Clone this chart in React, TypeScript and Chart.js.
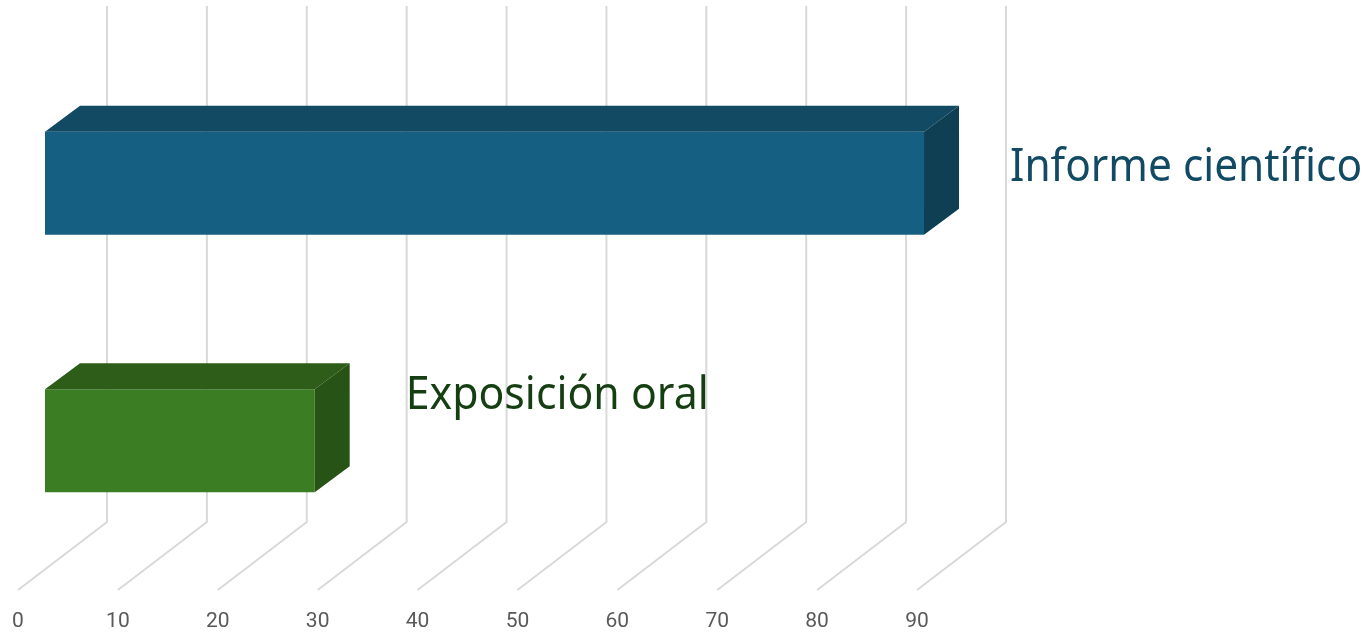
import React, { useEffect, useRef } from "react";
import { Chart, registerables } from "chart.js";

Chart.register(...registerables);

const categories = ["Informe científico", "Exposición oral"];
const values = [88, 27];
const frontColors = ["#156082", "#3B7D23"];
const topColors = ["#124A64", "#2E5D1A"];
const sideColors = ["#0E3F52", "#275317"];
const labelColors = ["#124A64", "#153F12"];

const WALL_DX = 89;
const WALL_DY = -68;
const BAR_DX = 27;
const BAR_DY = -20.6;
const DEPTH_DX = 35;
const DEPTH_DY = -26;
const WALL_TOP = 6;
const labelPlacement = [
  { dx: 51, baseline: 181, width: 352 },
  { dx: 56, baseline: 409, width: 303 },
];

const bar3d = {
  id: "bar3d",
  beforeDatasetsDraw(chart: any) {
    const { ctx, scales } = chart;
    const x = scales.x;
    const bottom = chart.chartArea.bottom;
    ctx.save();
    ctx.strokeStyle = "#D9D9D9";
    ctx.lineWidth = 2;
    ctx.lineJoin = "miter";
    x.ticks.forEach((t: any) => {
      const px = x.getPixelForValue(t.value);
      ctx.beginPath();
      ctx.moveTo(px, bottom);
      ctx.lineTo(px + WALL_DX, bottom + WALL_DY);
      ctx.lineTo(px + WALL_DX, WALL_TOP);
      ctx.stroke();
    });
    ctx.restore();
    ctx.save();
    ctx.translate(BAR_DX, BAR_DY);
  },
  afterDatasetsDraw(chart: any) {
    const { ctx } = chart;
    ctx.restore();
    const meta = chart.getDatasetMeta(0);
    meta.data.forEach((bar: any, i: number) => {
      const p = bar.getProps(["x", "y", "base", "height"], true);
      const left = p.base + BAR_DX;
      const right = p.x + BAR_DX;
      const top = p.y - p.height / 2 + BAR_DY;
      const bot = p.y + p.height / 2 + BAR_DY;
      ctx.fillStyle = topColors[i];
      ctx.beginPath();
      ctx.moveTo(left, top);
      ctx.lineTo(left + DEPTH_DX, top + DEPTH_DY);
      ctx.lineTo(right + DEPTH_DX, top + DEPTH_DY);
      ctx.lineTo(right, top);
      ctx.closePath();
      ctx.fill();
      ctx.fillStyle = sideColors[i];
      ctx.beginPath();
      ctx.moveTo(right, top);
      ctx.lineTo(right + DEPTH_DX, top + DEPTH_DY);
      ctx.lineTo(right + DEPTH_DX, bot + DEPTH_DY);
      ctx.lineTo(right, bot);
      ctx.closePath();
      ctx.fill();
      const place = labelPlacement[i];
      ctx.save();
      ctx.font = '46px "Noto Sans"';
      ctx.fillStyle = labelColors[i];
      ctx.textAlign = "left";
      ctx.textBaseline = "alphabetic";
      ctx.fillText(categories[i], right + DEPTH_DX + place.dx, place.baseline, place.width);
      ctx.restore();
    });
  },
};

export default function App() {
  const ref = useRef<HTMLCanvasElement>(null);
  useEffect(() => {
    const chart = new Chart(ref.current!, {
      type: "bar",
      data: {
        labels: categories,
        datasets: [
          {
            data: values,
            backgroundColor: frontColors,
            borderWidth: 0,
            categoryPercentage: 1,
            barPercentage: 0.4,
          },
        ],
      },
      options: {
        indexAxis: "y",
        animation: false,
        responsive: false,
        layout: { autoPadding: false, padding: { left: 18, right: 451, top: 75, bottom: 0 } },
        plugins: { legend: { display: false }, tooltip: { enabled: false } },
        scales: {
          x: {
            type: "linear",
            min: 0,
            max: 90,
            grid: { display: false, drawTicks: false },
            border: { display: false },
            afterFit: (s: any) => {
              s.height = 42;
              s.paddingLeft = 0;
              s.paddingRight = 0;
            },
            ticks: {
              stepSize: 10,
              maxRotation: 0,
              autoSkip: false,
              padding: 19,
              color: "#595959",
              font: { family: "Roboto", size: 21 },
            },
          },
          y: { display: false },
        },
      },
      plugins: [bar3d],
    } as any);
    return () => chart.destroy();
  }, []);
  return (
    <div style={{ position: "fixed", left: 0, top: 0, width: 1368, height: 632, background: "#fff" }}>
      <canvas ref={ref} width={1368} height={632} style={{ display: "block", width: 1368, height: 632 }} />
    </div>
  );
}
